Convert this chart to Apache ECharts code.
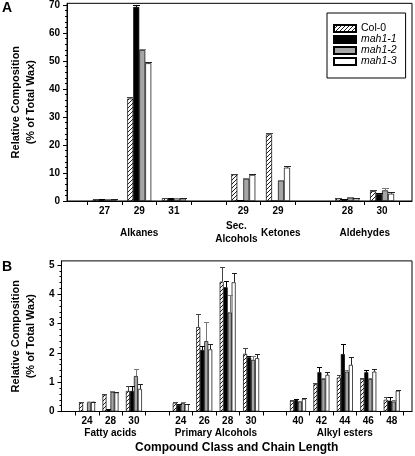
<!DOCTYPE html>
<html><head><meta charset="utf-8">
<script src="https://cdn.jsdelivr.net/npm/echarts@6/dist/echarts.min.js"></script>
<style>html,body{margin:0;padding:0;background:#fff}#c{width:415px;height:456px}</style>
</head><body><div id="c"></div>
<script>
const seriesNames = ['Col-0', 'mah1-1', 'mah1-2', 'mah1-3'];

// Panel A (chain lengths, blank = spacer slot)
const catA = ['27', '29', '31', '', '29', '29', '', '28', '30'];
const groupA = ['Alkanes', 'Sec.\nAlcohols', 'Ketones', 'Aldehydes'];
const groupPosA = [2, 4.8, 6.08, 8.5];
const yTicksA = [0, 10, 20, 30, 40, 50, 60, 70];
const colA    = [0.5, 36.6, 1.0, null, 9.5, 23.8, null, 0.9, 3.5];
const colAErr = [0.1, 0.6, 0.1, null, 0.2, 0.4, null, 0.1, 0.5];
const m1A     = [0.6, 69.3, 1.0, null, 0.3, 0, null, 0.6, 2.5];
const m1AErr  = [0.1, 0.7, 0.1, null, 0.1, 0, null, 0.1, 0.3];
const m2A     = [0.6, 53.9, 1.0, null, 7.9, 7.3, null, 1.2, 3.8];
const m2AErr  = [0.1, 0.5, 0.1, null, 0.2, 0.1, null, 0.1, 1.0];
const m3A     = [0.5, 49.2, 0.8, null, 9.3, 11.9, null, 0.9, 2.6];
const m3AErr  = [0.1, 0.6, 0.1, null, 0.3, 0.7, null, 0.1, 0.5];

// Panel B
const catB = ['24', '28', '30', '', '24', '26', '28', '30', '', '40', '42', '44', '46', '48'];
const groupB = ['Fatty acids', 'Primary Alcohols', 'Alkyl esters'];
const groupPosB = [2, 6.5, 12];
const yTicksB = [0, 1, 2, 3, 4, 5];
const colB    = [0.30, 0.58, 0.70, null, 0.30, 2.88, 4.43, 1.97, null, 0.36, 0.93, 1.16, 1.11, 0.40];
const colBErr = [0.02, 0.02, 0.16, null, 0.02, 0.44, 0.51, 0.20, null, 0.02, 0.03, 0.09, 0.03, 0.08];
const m1B     = [0.00, 0.07, 0.70, null, 0.22, 2.10, 4.24, 1.85, null, 0.40, 1.34, 1.96, 1.34, 0.37];
const m1BErr  = [0.00, 0.02, 0.18, null, 0.02, 0.12, 0.23, 0.05, null, 0.02, 0.19, 0.33, 0.08, 0.11];
const m2B     = [0.33, 0.67, 1.21, null, 0.29, 2.40, 3.38, 1.76, null, 0.34, 1.11, 1.36, 1.11, 0.34];
const m2BErr  = [0.01, 0.02, 0.24, null, 0.02, 0.67, 0.60, 0.12, null, 0.02, 0.05, 0.04, 0.03, 0.06];
const m3B     = [0.33, 0.65, 0.77, null, 0.25, 2.12, 4.41, 1.82, null, 0.43, 1.25, 1.59, 1.36, 0.71];
const m3BErr  = [0.01, 0.02, 0.17, null, 0.02, 0.17, 0.31, 0.14, null, 0.02, 0.09, 0.28, 0.09, 0.03];

const valsA = [colA, m1A, m2A, m3A], errsA = [colAErr, m1AErr, m2AErr, m3AErr];
const valsB = [colB, m1B, m2B, m3B], errsB = [colBErr, m1BErr, m2BErr, m3BErr];

// hatch pattern
const pc = document.createElement('canvas'); pc.width = 4; pc.height = 4;
const g = pc.getContext('2d'); g.fillStyle = '#fff'; g.fillRect(0, 0, 4, 4);
g.strokeStyle = '#222'; g.lineWidth = 1;
g.beginPath(); g.moveTo(0, 4); g.lineTo(4, 0); g.moveTo(-1, 1); g.lineTo(1, -1); g.moveTo(3, 5); g.lineTo(5, 3); g.stroke();
const fills = [{image: pc, repeat: 'repeat'}, '#000', '#a6a6a6', '#fff'];
const errColors = ['#444', '#000', '#777', '#222'];

const FONT = 'Liberation Sans';
const minA = -0.082, maxA = 9.863, minB = -0.092, maxB = 14.865;
const half = n => Array.from({length: n}, (_, i) => i + 0.5);
const ints = n => Array.from({length: n}, (_, i) => i + 1);
const minorA = []; for (let v = 2; v < 70.5; v += 2) if (v % 10) minorA.push(v);
const minorB = []; for (let k = 1; k < 25; k++) if (k % 5) minorB.push(k / 5);

function xAxis(grid, min, max, cats, name) {
  return {
    type: 'value', gridIndex: grid, position: 'bottom', min: min, max: max,
    axisLine: {onZero: false, lineStyle: {color: '#000', width: 1}},
    axisTick: {customValues: half(cats.length + 1), length: 4, lineStyle: {color: '#000'}},
    axisLabel: {customValues: ints(cats.length), formatter: v => cats[Math.round(v) - 1] || '',
      color: '#000', fontFamily: FONT, fontWeight: 'bold', fontSize: 10, margin: 10, verticalAlign: 'middle'},
    splitLine: {show: false},
    name: name || '', nameLocation: 'middle', nameGap: 30,
    nameTextStyle: {color: '#000', fontFamily: FONT, fontWeight: 'bold', fontSize: 12}
  };
}
function yAxes(grid, max, ticks, minor) {
  return [{
    type: 'value', gridIndex: grid, position: 'left', min: 0, max: max,
    axisLine: {show: true, onZero: false, lineStyle: {color: '#000', width: 1}},
    axisTick: {show: true, customValues: ticks, length: 4, lineStyle: {color: '#000'}},
    axisLabel: {customValues: ticks, color: '#000', fontFamily: FONT, fontWeight: 'bold', fontSize: 10, margin: 7},
    splitLine: {show: false},
    name: 'Relative Composition\n(% of Total Wax)', nameLocation: 'middle', nameGap: 18,
    nameTextStyle: {color: '#000', fontFamily: FONT, fontWeight: 'bold', fontSize: 11, lineHeight: 15}
  }, {
    type: 'value', gridIndex: grid, position: 'left', min: 0, max: max,
    axisLine: {show: false, onZero: false},
    axisTick: {show: true, customValues: minor, length: 2, lineStyle: {color: '#000'}},
    axisLabel: {show: false}, splitLine: {show: false}
  }];
}

function panelSeries(vals, errs, xi, yi, bw) {
  const out = [];
  vals.forEach((arr, s) => {
    out.push({
      type: 'bar', name: seriesNames[s], xAxisIndex: xi, yAxisIndex: yi,
      barWidth: bw, barGap: '0%',
      itemStyle: {color: fills[s], borderColor: '#000', borderWidth: 0.7},
      data: arr.map((v, i) => v == null ? null : [i + 1, v]).filter(d => d),
      z: 2
    });
  });
  vals.forEach((arr, s) => {
    const off = (s - 1.5) * bw, cap = bw / 2 + 0.5, col = errColors[s];
    out.push({
      type: 'custom', name: seriesNames[s], xAxisIndex: xi, yAxisIndex: yi, z: 3, silent: true,
      data: arr.map((v, i) => v == null ? null : [i + 1, v, errs[s][i]]).filter(d => d),
      renderItem: (params, api) => {
        const e = api.value(2); if (!e) return null;
        const x = api.value(0), y = api.value(1);
        const p0 = api.coord([x, y]), p1 = api.coord([x, y + e]);
        const cx = Math.round(p0[0] + off) + 0.5, y1 = Math.round(p1[1]) + 0.5;
        return {type: 'group', children: [
          {type: 'line', shape: {x1: cx, y1: p0[1], x2: cx, y2: y1}, style: {stroke: col, lineWidth: 1}},
          {type: 'line', shape: {x1: cx - cap, y1: y1, x2: cx + cap, y2: y1}, style: {stroke: col, lineWidth: 1}}
        ]};
      }
    });
  });
  return out;
}

const chart = echarts.init(document.getElementById('c'), null, {renderer: 'canvas'});
chart.setOption({
  animation: false,
  backgroundColor: '#fff',
  title: [
    {text: 'A', left: 2, top: 1, textStyle: {fontFamily: FONT, fontWeight: 'bold', fontSize: 14, color: '#000'}, padding: 0},
    {text: 'B', left: 2, top: 260, textStyle: {fontFamily: FONT, fontWeight: 'bold', fontSize: 14, color: '#000'}, padding: 0}
  ],
  legend: {
    left: 327, top: 13, orient: 'vertical', icon: 'rect', itemWidth: 22, itemHeight: 7, itemGap: 0,
    borderColor: '#000', borderWidth: 1, padding: [10, 9, 11, 6], backgroundColor: '#fff',
    textStyle: {fontFamily: FONT, fontSize: 10.5, color: '#000', lineHeight: 10},
    data: seriesNames.map((n, i) => ({name: n, textStyle: {fontStyle: i ? 'italic' : 'normal'}})),
    selectedMode: false
  },
  grid: [
    {left: 49, right: 3, top: 3.3, height: 197.7, show: true, borderColor: '#000', borderWidth: 1, backgroundColor: 'transparent'},
    {left: 49, right: 3, top: 260.9, height: 150.6, show: true, borderColor: '#000', borderWidth: 1, backgroundColor: 'transparent'}
  ],
  xAxis: [xAxis(0, minA, maxA, catA, ''), xAxis(1, minB, maxB, catB, 'Compound Class and Chain Length')],
  yAxis: [].concat(yAxes(0, 70.6, yTicksA, minorA), yAxes(1, 5.14, yTicksB, minorB)),
  series: [].concat(panelSeries(valsA, errsA, 0, 0, 6), panelSeries(valsB, errsB, 1, 2, 4))
});

// compound-class labels, placed through the x scales
function classLabels(names, pos, xi, yi, gap) {
  const y0 = chart.convertToPixel({yAxisIndex: yi}, 0);
  return names.map((n, k) => ({
    type: 'text',
    x: chart.convertToPixel({xAxisIndex: xi}, pos[k]),
    y: y0 + gap,
    style: {text: n, fill: '#000', font: 'bold 10px "' + FONT + '"', align: 'center',
            verticalAlign: 'middle', lineHeight: 13}
  }));
}
chart.setOption({graphic: [].concat(
  classLabels(groupA, groupPosA, 0, 0, 32),
  classLabels(groupB, groupPosB, 1, 2, 21.5)
)});
</script></body></html>
